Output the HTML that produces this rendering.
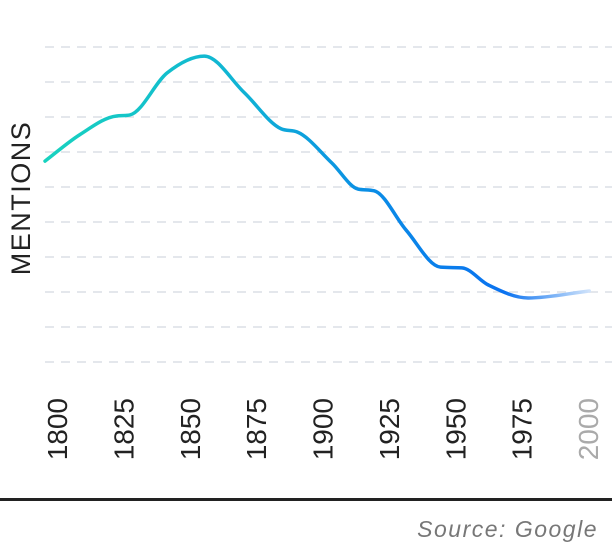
<!DOCTYPE html>
<html><head><meta charset="utf-8"><style>
html,body{margin:0;padding:0;background:#fff;width:612px;height:544px;overflow:hidden}
svg{display:block;font-family:"Liberation Sans",sans-serif}
</style></head><body>
<svg id="chart" width="612" height="544">
<defs>
<linearGradient id="lg" gradientUnits="userSpaceOnUse" x1="45" y1="0" x2="592" y2="0">
<stop offset="0" stop-color="#18d2bf"/>
<stop offset="0.35" stop-color="#10b4d4"/>
<stop offset="0.6" stop-color="#0a8ce6"/>
<stop offset="0.84" stop-color="#0a72f0"/>
<stop offset="1" stop-color="#d6e6fb"/>
</linearGradient>
</defs>
<g id="grid"></g>
<text transform="translate(30,198) rotate(-90)" text-anchor="middle" font-size="27" fill="#222" letter-spacing="1.5">MENTIONS</text>
<g id="xt"></g>
<path id="line" fill="none" stroke="url(#lg)" stroke-width="3.5" stroke-linecap="round"/>
<rect x="0" y="498" width="612" height="3" fill="#222"/>
<text x="598" y="537" text-anchor="end" font-size="23" font-style="italic" fill="#777" letter-spacing="1.5">Source: Google</text>
</svg>
<script>
const years=[1800,1813,1827,1832,1846,1860,1875,1889,1895,1908,1918,1924,1936,1949,1957,1967,1982,2005];
const mentions=[57.4,64.9,70.3,70.6,82.6,87.4,77,66.6,65.7,56.9,49.4,48.9,37.7,27.1,26.9,22,18.3,20.3];
const tickYears=[1800,1825,1850,1875,1900,1925,1950,1975,2000];
const gridValues=[0,10,20,30,40,50,60,70,80,90];
const NS="http://www.w3.org/2000/svg";
const x=y=>45+(y-1800)*2.655;
const yv=v=>362-v*3.5;
const grid=document.getElementById('grid');
gridValues.forEach(v=>{
 const l=document.createElementNS(NS,'line');
 
 
 l.setAttribute('x1',45);l.setAttribute('x2',612);
 l.setAttribute('y1',yv(v));l.setAttribute('y2',yv(v));
 l.setAttribute('stroke','#e4e7ec');l.setAttribute('stroke-width','2');l.setAttribute('stroke-dasharray','9 7');
 grid.appendChild(l);
});
const xt=document.getElementById('xt');
tickYears.forEach(t=>{
 const tx=document.createElementNS(NS,'text');
 
 
 tx.setAttribute('transform','translate('+(x(t)+22)+',398) rotate(-90)');
 tx.setAttribute('text-anchor','end');
 tx.setAttribute('font-size','28');
 tx.setAttribute('fill',t===2000?'#aaa':'#222');
 tx.textContent=t;
 xt.appendChild(tx);
});
const P=years.map((y,i)=>[x(y),yv(mentions[i])]);
const n=P.length,d=[],m=[];
for(let i=0;i<n-1;i++)d.push((P[i+1][1]-P[i][1])/(P[i+1][0]-P[i][0]));
m[0]=d[0];m[n-1]=d[n-2];
for(let i=1;i<n-1;i++)m[i]=d[i-1]*d[i]<=0?0:(d[i-1]+d[i])/2;
for(let i=0;i<n-1;i++){if(d[i]===0){m[i]=m[i+1]=0;continue;}const a=m[i]/d[i],b=m[i+1]/d[i],s=a*a+b*b;if(s>9){const t=3/Math.sqrt(s);m[i]=t*a*d[i];m[i+1]=t*b*d[i];}}
let p='M'+P[0][0]+','+P[0][1];
for(let i=0;i<n-1;i++){const h=(P[i+1][0]-P[i][0])/3;p+=' C'+(P[i][0]+h)+','+(P[i][1]+m[i]*h)+' '+(P[i+1][0]-h)+','+(P[i+1][1]-m[i+1]*h)+' '+P[i+1][0]+','+P[i+1][1];}
document.getElementById('line').setAttribute('d',p);
</script>
</body></html>
